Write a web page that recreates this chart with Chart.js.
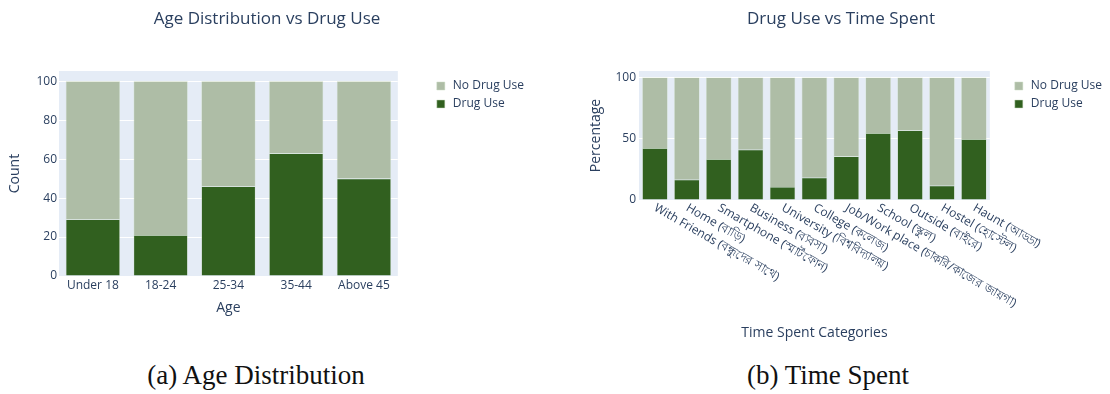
<!DOCTYPE html>
<html>
<head>
<meta charset="utf-8">
<script src="https://cdn.jsdelivr.net/npm/chart.js@4.4.1/dist/chart.umd.min.js"></script>
<style>
  html, body { margin: 0; padding: 0; background: #fff; overflow: hidden; width: 1110px; height: 394px; }
  #wrap { position: relative; width: 1110px; height: 394px; overflow: hidden; }
  canvas { position: absolute; top: 0; }
  #ageChart { left: 0; }
  #timeChart { left: 570px; }
  .caption {
    position: absolute; top: 360px; transform: translateX(-50%);
    font-family: "Liberation Serif", "DejaVu Serif", serif; font-size: 27px;
    color: #111; white-space: nowrap;
  }
</style>
</head>
<body>
<div id="wrap">
  <canvas id="ageChart" width="540" height="316"></canvas>
  <canvas id="timeChart" width="545" height="345"></canvas>
  <div class="caption" style="left:256px">(a) Age Distribution</div>
  <div class="caption" style="left:828px">(b) Time Spent</div>
</div>
<script>
// ---- data: age groups ----
const ageGroups = ['Under 18', '18-24', '25-34', '35-44', 'Above 45'];
const ageDrugUse = [29, 21, 46, 63, 50];
const ageNoDrugUse = [71, 79, 54, 37, 50];
const ageTicks = [0, 20, 40, 60, 80, 100];

// ---- data: time spent ----
const timeCategories = [
  'With Friends (বন্ধুদের সাথে)',
  'Home (বাড়ি)',
  'Smartphone (স্মার্টফোন)',
  'Business (ব্যবসা)',
  'University (বিশ্ববিদ্যালয়)',
  'College (কলেজ)',
  'Job/Work place (চাকরি/কাজের জায়গা)',
  'School (স্কুল)',
  'Outside (বাইরে)',
  'Hostel (হোস্টেল)',
  'Haunt (আড্ডা)'
];
const timeDrugUse = [42.4, 16.6, 33.4, 41.0, 10.6, 18.2, 35.6, 54.6, 56.8, 11.7, 49.7];
const timeNoDrugUse = [57.6, 83.4, 66.6, 59.0, 89.4, 81.8, 64.4, 45.4, 43.2, 88.3, 50.3];
const timeTicks = [0, 50, 100];

// ---- shared styling ----
const FONT = '"Open Sans", "Noto Sans", "DejaVu Sans", sans-serif';
const INK = '#2a3f5f';
const DARK_GREEN = '#31601f';
const SAGE = '#aebda6';
const PLOT_BG = '#e5ecf6';

Chart.defaults.font.family = FONT;
Chart.defaults.color = INK;

// fills the plotting area with a pale blue panel
const plotBackground = {
  id: 'plotBackground',
  beforeDraw(chart) {
    const { ctx, chartArea: a } = chart;
    ctx.save();
    ctx.fillStyle = PLOT_BG;
    ctx.fillRect(a.left, a.top, a.width, a.height);
    ctx.restore();
  }
};

// category labels slanting down to the right, starting at each tick
const slantedTicks = {
  id: 'slantedTicks',
  afterDraw(chart, args, opts) {
    const scale = chart.scales.x;
    const ctx = chart.ctx;
    ctx.save();
    ctx.font = `${opts.size}px ${FONT}`;
    ctx.fillStyle = INK;
    ctx.textAlign = 'left';
    ctx.textBaseline = 'middle';
    scale.ticks.forEach((t, i) => {
      const x = scale.getPixelForTick(i);
      ctx.save();
      ctx.translate(x + opts.dx, scale.top + opts.dy);
      ctx.rotate(opts.angle * Math.PI / 180);
      ctx.fillText(scale.getLabelForValue(t.value), 0, 0);
      ctx.restore();
    });
    ctx.restore();
  }
};

function stackedDatasets(drug, noDrug) {
  const common = { barPercentage: 0.8, categoryPercentage: 1.0, borderWidth: 0.6, borderColor: 'rgba(205,222,196,0.8)' };
  return [
    Object.assign({ label: 'Drug Use', data: drug, backgroundColor: DARK_GREEN }, common),
    Object.assign({ label: 'No Drug Use', data: noDrug, backgroundColor: SAGE }, common)
  ];
}

function legendOptions() {
  return {
    position: 'right', align: 'start', reverse: true, fullSize: false, maxWidth: 200,
    title: { display: true, text: '', font: { size: 2 }, padding: { top: 0, bottom: 0.6 } },
    labels: {
      usePointStyle: true, pointStyle: 'rect', boxWidth: 12, boxHeight: 8,
      padding: 6, font: { size: 12 }, color: INK
    }
  };
}

function titleOptions(text) {
  return {
    display: true, text, color: INK,
    font: { size: 17, weight: 'normal', family: FONT },
    padding: { top: 9, bottom: 41.6 }
  };
}

// ---- chart (a): age distribution ----
new Chart(document.getElementById('ageChart'), {
  type: 'bar',
  data: { labels: ageGroups, datasets: stackedDatasets(ageDrugUse, ageNoDrugUse) },
  options: {
    responsive: false, animation: false, devicePixelRatio: 1,
    layout: { padding: { left: 0, right: 6, top: 0, bottom: 0 } },
    plugins: { legend: legendOptions(), title: titleOptions('Age Distribution vs Drug Use'), tooltip: { enabled: false } },
    scales: {
      x: {
        stacked: true,
        grid: { display: false, drawTicks: false }, border: { display: false },
        ticks: { font: { size: 12 }, color: INK, padding: 2, maxRotation: 0 },
        title: { display: true, text: 'Age', font: { size: 14 }, color: INK, padding: { top: 0, bottom: 0 } },
        afterFit: s => { s.height = 40; }
      },
      y: {
        stacked: true, min: 0, max: 105.26,
        grid: { color: '#ffffff', lineWidth: 1, drawTicks: false }, border: { display: false },
        ticks: { font: { size: 12 }, color: INK, padding: 2 },
        afterBuildTicks: s => { s.ticks = ageTicks.map(v => ({ value: v })); },
        title: { display: true, text: 'Count', font: { size: 14 }, color: INK, padding: { top: 7, bottom: 0 } },
        afterFit: s => { s.width = 59; }
      },
      gap: {
        type: 'linear', position: 'right', display: true,
        grid: { display: false, drawTicks: false }, border: { display: false }, ticks: { display: false },
        afterFit: s => { s.width = 31; }
      }
    }
  },
  plugins: [plotBackground]
});

// ---- chart (b): time spent ----
new Chart(document.getElementById('timeChart'), {
  type: 'bar',
  data: { labels: timeCategories, datasets: stackedDatasets(timeDrugUse, timeNoDrugUse) },
  options: {
    responsive: false, animation: false, devicePixelRatio: 1,
    layout: { padding: { left: 0, right: 3, top: 0, bottom: 3.5 } },
    plugins: {
      legend: legendOptions(), title: titleOptions('Drug Use vs Time Spent'), tooltip: { enabled: false },
      slantedTicks: { size: 12, angle: 30, dx: 0, dy: 7 }
    },
    scales: {
      x: {
        stacked: true,
        grid: { display: false, drawTicks: false }, border: { display: false },
        ticks: { display: false },
        title: { display: true, text: 'Time Spent Categories', font: { size: 14 }, color: INK, padding: { top: 0, bottom: 0 } },
        afterFit: s => { s.height = 141.5; }
      },
      y: {
        stacked: true, min: 0, max: 105.26,
        grid: { color: '#ffffff', lineWidth: 1, drawTicks: false }, border: { display: false },
        ticks: { font: { size: 12 }, color: INK, padding: 3 },
        afterBuildTicks: s => { s.ticks = timeTicks.map(v => ({ value: v })); },
        title: { display: true, text: 'Percentage', font: { size: 14 }, color: INK, padding: { top: 17.6, bottom: 0 } },
        afterFit: s => { s.width = 69; }
      },
      gap: {
        type: 'linear', position: 'right', display: true,
        grid: { display: false, drawTicks: false }, border: { display: false }, ticks: { display: false },
        afterFit: s => { s.width = 17; }
      }
    }
  },
  plugins: [plotBackground, slantedTicks]
});
</script>
</body>
</html>
